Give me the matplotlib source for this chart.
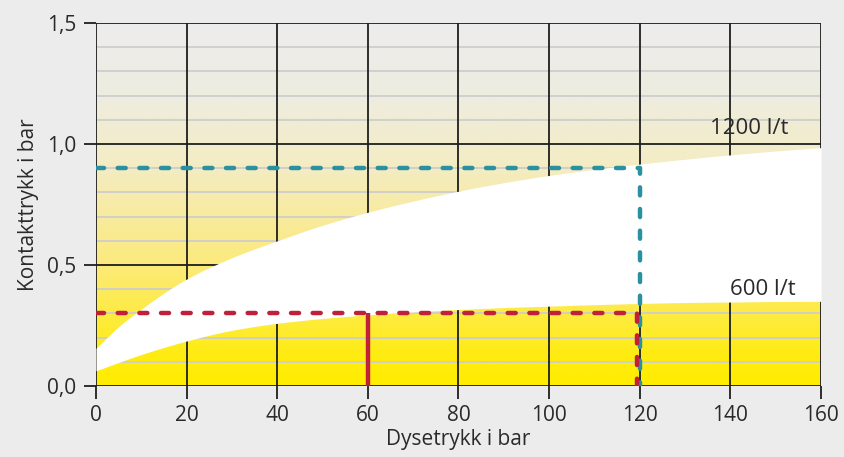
import numpy as np
import matplotlib
matplotlib.use("Agg")
import matplotlib.pyplot as plt
from matplotlib.colors import LinearSegmentedColormap

# ---- data ----
x_upper = [0, 5, 10, 20, 30, 40, 50, 60, 70, 80, 90, 100, 110, 120, 130, 140, 150, 160]
y_upper = [0.156, 0.245, 0.318, 0.442, 0.530, 0.600, 0.664, 0.718, 0.764, 0.805, 0.840, 0.870, 0.895, 0.917, 0.937, 0.955, 0.971, 0.985]
x_lower = [0, 10, 20, 30, 40, 50, 60, 70, 80, 90, 100, 110, 120, 130, 140, 150, 160]
y_lower = [0.063, 0.130, 0.186, 0.230, 0.259, 0.279, 0.294, 0.306, 0.316, 0.324, 0.330, 0.336, 0.341, 0.345, 0.347, 0.349, 0.350]
red_level = 0.3
red_x_solid = 60
red_x_end = 119.5
blue_level = 0.9
blue_x = 120
label_1200 = "1200 l/t"
label_600 = "600 l/t"
xticks = [0, 20, 40, 60, 80, 100, 120, 140, 160]
yticks = [0.0, 0.5, 1.0, 1.5]
ytick_labels = ["0,0", "0,5", "1,0", "1,5"]
minor_y = [0.1, 0.2, 0.3, 0.4, 0.6, 0.7, 0.8, 0.9, 1.1, 1.2, 1.3, 1.4]


def pchip(x, y, xn):
    x = np.asarray(x, float); y = np.asarray(y, float)
    h = np.diff(x); d = np.diff(y) / h
    m = np.zeros_like(y)
    for k in range(1, len(x) - 1):
        if d[k - 1] * d[k] > 0:
            w1 = 2 * h[k] + h[k - 1]; w2 = h[k] + 2 * h[k - 1]
            m[k] = (w1 + w2) / (w1 / d[k - 1] + w2 / d[k])
    m[0] = d[0]; m[-1] = d[-1]
    idx = np.clip(np.searchsorted(x, xn) - 1, 0, len(x) - 2)
    t = (xn - x[idx]) / h[idx]
    h00 = 2*t**3 - 3*t**2 + 1; h10 = t**3 - 2*t**2 + t
    h01 = -2*t**3 + 3*t**2; h11 = t**3 - t**2
    return h00*y[idx] + h10*h[idx]*m[idx] + h01*y[idx+1] + h11*h[idx]*m[idx+1]


plt.rcParams['font.family'] = ['Open Sans', 'DejaVu Sans']
plt.rcParams['lines.scale_dashes'] = False

bg = '#ececec'
tc = '#2a2a2a'
fs = 15
fig = plt.figure(figsize=(8.45, 4.57), dpi=100, facecolor=bg)
ax = fig.add_axes([96/845, 1-386/457, 725/845, 363/457])
ax.set_facecolor(bg)
ax.set_xlim(0, 160)
ax.set_ylim(0, 1.5)

# gradient
cmap = LinearSegmentedColormap.from_list('g', [
    (0.0, '#ffec00'),
    (0.08, '#ffec10'),
    (0.33, '#fcea7a'),
    (0.6, '#f4ecc2'),
    (0.8, '#eeece0'),
    (1.0, '#ededed')])
grad = np.linspace(0, 1, 256).reshape(-1, 1)
ax.imshow(grad, extent=[0, 160, 0, 1.5], origin='lower', aspect='auto', cmap=cmap, zorder=0)

# grid
for v in minor_y:
    ax.axhline(v, color='#cdcdcd', lw=1.3, zorder=1)
for v in xticks:
    ax.axvline(v, color='#1e1e1e', lw=1.3, zorder=2)
for v in yticks:
    ax.axhline(v, color='#1e1e1e', lw=1.3, zorder=2)

# white band
xx = np.linspace(0, 160, 800)
yu = pchip(x_upper, y_upper, xx)
yl = pchip(x_lower, y_lower, xx)
ax.fill_between(xx, yl, yu, color='white', lw=0, zorder=3)

red = '#c0203a'
blue = '#2a91a0'
dash = (5.8, 9.8)
ax.plot([0, blue_x, blue_x], [blue_level, blue_level, 0], color=blue, lw=3.2, dashes=dash,
        dash_capstyle='round', zorder=5)
ax.plot([0, red_x_end, red_x_end], [red_level, red_level, 0], color=red, lw=3.2, dashes=dash,
        dash_capstyle='round', zorder=6)
ax.plot([red_x_solid, red_x_solid], [0, red_level], color=red, lw=3.2, solid_capstyle='butt', zorder=6)

ax.text(152.9, 1.066, label_1200, ha='right', va='center', fontsize=16, color=tc, zorder=7)
ax.text(154.5, 0.397, label_600, ha='right', va='center', fontsize=16, color=tc, zorder=7)

for s in ax.spines.values():
    s.set_visible(False)
ax.set_xticks(xticks)
ax.set_xticklabels([str(v) for v in xticks])
ax.set_yticks(yticks)
ax.set_yticklabels(ytick_labels)
ax.tick_params(axis='both', length=9, width=1.3, color='#1e1e1e', labelsize=fs, labelcolor=tc, pad=5)
ax.set_xlabel('Dysetrykk i bar', fontsize=fs, color=tc, labelpad=2)
ax.set_ylabel('Kontakttrykk i bar', fontsize=fs, color=tc, labelpad=6)

fig.savefig('out.png', dpi=100, facecolor=bg)
